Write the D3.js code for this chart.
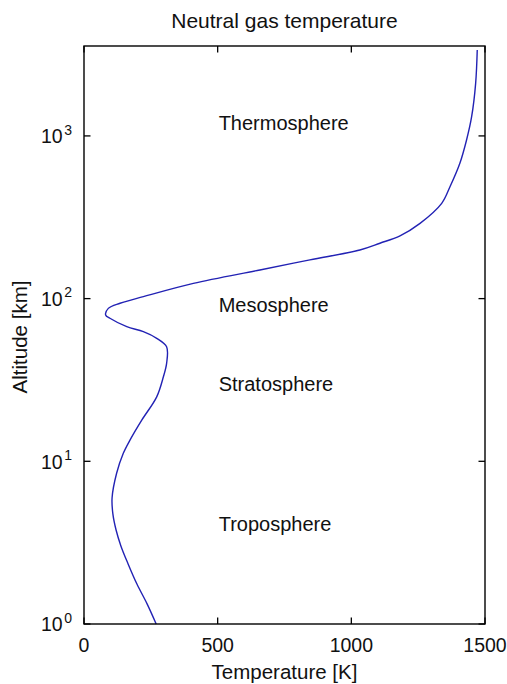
<!DOCTYPE html>
<html>
<head>
<meta charset="utf-8">
<script src="https://cdn.jsdelivr.net/npm/d3@7"></script>
<style>
  html, body { margin: 0; padding: 0; background: #fff; }
  svg { display: block; }
  text { font-family: "Liberation Sans", Arial, Helvetica, sans-serif; fill: #111; }
</style>
</head>
<body>
<svg id="chart" width="507" height="684"></svg>
<script>
// Neutral gas temperature profile: altitude (km) and temperature (K)
const altitudeKm = [1.0, 1.33, 1.76, 2.34, 3.02, 3.78, 4.75, 5.95, 8.44, 11.2, 13.5, 17.9, 24.9,
  33.1, 40, 50.6, 57, 62.6, 67.2, 75.7, 79.3, 87.1, 93.6, 102.8, 124, 150, 173, 199, 219, 243,
  290, 385, 487, 679, 944, 1312, 2105, 3373];
const temperatureK = [270, 236, 198, 165, 138, 120, 108, 105, 122, 147, 172, 216, 272,
  297, 309, 309, 272, 222, 160, 97, 81, 91, 135, 222, 409, 658, 845, 1032, 1107, 1182,
  1257, 1338, 1369, 1406, 1431, 1450, 1465, 1471];

// Atmospheric layer annotations
const layerNames = ["Thermosphere", "Mesosphere", "Stratosphere", "Troposphere"];
const layerAltitudes = [1200, 91, 30, 4.1];
const layerTemperature = 500;

// Axis settings
const xTicks = [0, 500, 1000, 1500];
const yTicks = [1, 10, 100, 1000];
const xDomain = [0, 1500];
const yDomain = [1, 3570];
const titleText = "Neutral gas temperature";
const xLabelText = "Temperature [K]";
const yLabelText = "Altitude [km]";

const svg = d3.select("#chart");
const plotLeft = 84, plotRight = 485, plotTop = 46, plotBottom = 624;

const x = d3.scaleLinear().domain(xDomain).range([plotLeft, plotRight]);
const y = d3.scaleLog().domain(yDomain).range([plotBottom, plotTop]);

const tickLen = 6.5;

// Ticks pointing inward on all four sides
const g = svg.append("g");
g.selectAll("line.xb").data(xTicks).join("line")
  .attr("x1", d => x(d)).attr("x2", d => x(d))
  .attr("y1", plotBottom).attr("y2", plotBottom - tickLen)
  .attr("stroke", "#000").attr("stroke-width", 1.3);
g.selectAll("line.xt").data(xTicks).join("line")
  .attr("x1", d => x(d)).attr("x2", d => x(d))
  .attr("y1", plotTop).attr("y2", plotTop + tickLen)
  .attr("stroke", "#000").attr("stroke-width", 1.3);
g.selectAll("line.yl").data(yTicks).join("line")
  .attr("x1", plotLeft).attr("x2", plotLeft + tickLen)
  .attr("y1", d => y(d)).attr("y2", d => y(d))
  .attr("stroke", "#000").attr("stroke-width", 1.3);
g.selectAll("line.yr").data(yTicks).join("line")
  .attr("x1", plotRight).attr("x2", plotRight - tickLen)
  .attr("y1", d => y(d)).attr("y2", d => y(d))
  .attr("stroke", "#000").attr("stroke-width", 1.3);

// Temperature profile
const line = d3.line()
  .x((d, i) => x(temperatureK[i]))
  .y(d => y(d))
  .curve(d3.curveCatmullRom.alpha(0.5));
svg.append("path")
  .datum(altitudeKm)
  .attr("d", line)
  .attr("fill", "none")
  .attr("stroke", "#2222b4")
  .attr("stroke-width", 1.4)
  .attr("stroke-linejoin", "round");

// Axes box
svg.append("rect")
  .attr("x", plotLeft).attr("y", plotTop)
  .attr("width", plotRight - plotLeft).attr("height", plotBottom - plotTop)
  .attr("fill", "none").attr("stroke", "#000").attr("stroke-width", 1.4);

// X tick labels
svg.selectAll("text.xtick").data(xTicks).join("text")
  .attr("class", "xtick")
  .attr("x", d => x(d)).attr("y", 652)
  .attr("text-anchor", "middle")
  .style("font-size", "19.5px")
  .text(d => d);

// Y tick labels as powers of ten
const yLab = svg.selectAll("text.ytick").data(yTicks).join("text")
  .attr("class", "ytick")
  .attr("x", 72).attr("y", d => y(d) + 7.3)
  .attr("text-anchor", "end")
  .style("font-size", "19.5px");
yLab.append("tspan").text("10");
yLab.append("tspan")
  .attr("dy", -8.5)
  .attr("dx", 1.5)
  .style("font-size", "14px")
  .text(d => Math.round(Math.log10(d)));

// Layer annotations
svg.selectAll("text.layer").data(layerNames).join("text")
  .attr("class", "layer")
  .attr("x", x(layerTemperature) + 1)
  .attr("y", (d, i) => y(layerAltitudes[i]))
  .attr("dominant-baseline", "central")
  .style("font-size", "20px")
  .text(d => d);

// Title and axis labels
svg.append("text")
  .attr("x", (plotLeft + plotRight) / 2).attr("y", 28)
  .attr("text-anchor", "middle")
  .style("font-size", "21px")
  .text(titleText);

svg.append("text")
  .attr("x", (plotLeft + plotRight) / 2).attr("y", 679)
  .attr("text-anchor", "middle")
  .style("font-size", "20.5px")
  .text(xLabelText);

svg.append("text")
  .attr("transform", `translate(27, ${(plotTop + plotBottom) / 2 + 2}) rotate(-90)`)
  .attr("text-anchor", "middle")
  .style("font-size", "20.5px")
  .text(yLabelText);
</script>
</body>
</html>
